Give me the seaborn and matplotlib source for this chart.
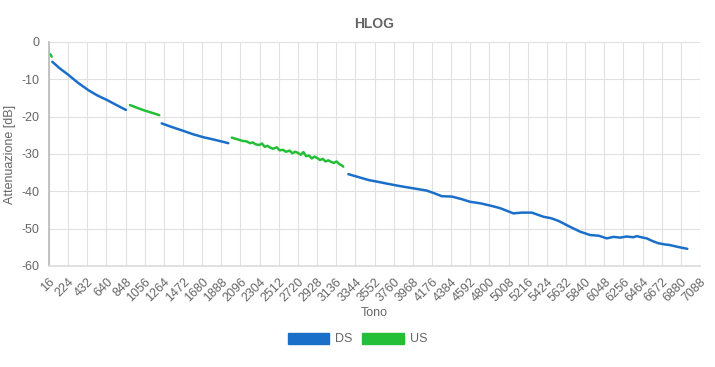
import matplotlib
matplotlib.use("Agg")
import matplotlib.pyplot as plt
from matplotlib.patches import Patch
import seaborn as sns
import pandas as pd

# ---- data ----
tick_labels = list(range(16, 7089, 208))

ds_seg1_tone = [52, 130, 226, 330, 443, 540, 643, 750, 852]
ds_seg1_db = [-5.3, -7.0, -8.8, -10.9, -12.9, -14.3, -15.5, -16.9, -18.2]

ds_seg2_tone = [1240, 1330, 1475, 1580, 1692, 1800, 1900, 1964]
ds_seg2_db = [-21.8, -22.6, -23.8, -24.7, -25.5, -26.1, -26.7, -27.1]

ds_seg3_tone = [3268, 3380, 3492, 3600, 3699, 3829, 3974, 4119, 4200, 4282, 4391,
                4500, 4590, 4700, 4807, 4916, 5060, 5151, 5260, 5386, 5470, 5549,
                5676, 5785, 5894, 5990, 6075, 6150, 6220, 6290, 6364, 6400, 6450,
                6509, 6570, 6635, 6700, 6762, 6850, 6950]
ds_seg3_db = [-35.4, -36.2, -37.0, -37.5, -38.0, -38.6, -39.2, -39.8, -40.5, -41.3, -41.4,
              -42.1, -42.8, -43.2, -43.8, -44.5, -45.9, -45.7, -45.7, -46.8, -47.2, -47.9,
              -49.5, -50.8, -51.7, -51.9, -52.6, -52.2, -52.4, -52.1, -52.3, -52.0, -52.3,
              -52.6, -53.3, -53.9, -54.2, -54.4, -54.9, -55.4]

us_seg1_tone = [27, 36, 45]
us_seg1_db = [-3.2, -3.5, -3.9]

us_seg2_tone = [896, 980, 1060, 1140, 1214]
us_seg2_db = [-16.9, -17.7, -18.4, -19.0, -19.6]

us_seg3_tone = [2001, 2040, 2080, 2120, 2160, 2200, 2230, 2260, 2300, 2330, 2360,
                2390, 2420, 2450, 2490, 2520, 2560, 2590, 2630, 2660, 2690, 2720,
                2750, 2780, 2810, 2840, 2870, 2900, 2930, 2960, 2990, 3020, 3050,
                3080, 3110, 3140, 3170, 3200, 3213]
us_seg3_db = [-25.6, -25.9, -26.2, -26.5, -26.6, -27.1, -26.9, -27.4, -27.6, -27.2, -28.1,
              -27.8, -28.3, -28.6, -28.2, -29.0, -28.9, -29.4, -29.1, -29.8, -29.4, -29.7,
              -30.2, -29.5, -30.6, -30.4, -31.2, -30.7, -31.1, -31.6, -31.3, -32.0, -31.7,
              -32.1, -32.4, -32.0, -32.7, -33.1, -33.4]

segments = [
    ("DS", 1, ds_seg1_tone, ds_seg1_db),
    ("DS", 2, ds_seg2_tone, ds_seg2_db),
    ("DS", 3, ds_seg3_tone, ds_seg3_db),
    ("US", 4, us_seg1_tone, us_seg1_db),
    ("US", 5, us_seg2_tone, us_seg2_db),
    ("US", 6, us_seg3_tone, us_seg3_db),
]
rows = []
for s, seg, t, d in segments:
    for a, b in zip(t, d):
        rows.append({"series": s, "segment": seg, "tone": a, "db": b})
df = pd.DataFrame(rows)

BLUE = "#1a6fc9"
GREEN = "#24bf37"
GRAY = "#666666"

sns.set_theme(style="white")
plt.rcParams["font.family"] = ["Liberation Sans", "DejaVu Sans"]

fig = plt.figure(figsize=(7.15, 3.67), dpi=100)
ax = fig.add_axes([49 / 715, 1 - 266 / 367, (700 - 49) / 715, (266 - 42) / 367])

sns.lineplot(data=df, x="tone", y="db", hue="series", units="segment",
             estimator=None, palette={"DS": BLUE, "US": GREEN},
             linewidth=1.8, ax=ax, legend=False, sort=False)

ax.set_xlim(16, 7088)
ax.set_ylim(-60, 0)
ax.set_xticks(tick_labels)
ax.set_xticklabels([str(v) for v in tick_labels], rotation=45, ha="right",
                   rotation_mode="anchor", fontsize=9, color=GRAY)
ax.set_yticks(range(-60, 1, 10))
ax.set_yticklabels([str(v) for v in range(-60, 1, 10)], fontsize=9, color=GRAY)
ax.tick_params(axis="both", length=4, color="#dddddd", pad=3)
ax.grid(True, color="#e0e0e0", linewidth=0.8)
for side in ["top", "right"]:
    ax.spines[side].set_visible(False)
ax.spines["left"].set_color("#bbbbbb")
ax.spines["bottom"].set_color("#dddddd")
ax.set_xlabel("Tono", fontsize=9, color=GRAY, labelpad=2)
ax.set_ylabel("Attenuazione [dB]", fontsize=9, color=GRAY, labelpad=4)
ax.set_title("HLOG", fontsize=10, fontweight="bold", color=GRAY, pad=10)

handles = [Patch(facecolor=BLUE, edgecolor=BLUE, label="DS"),
           Patch(facecolor=GREEN, edgecolor=GREEN, label="US")]
fig.legend(handles=handles, loc="center", bbox_to_anchor=(0.5, 1 - 339 / 367),
           ncol=2, frameon=False, fontsize=9, handlelength=3.3, handleheight=1.0,
           columnspacing=0.8, handletextpad=0.5, labelcolor=GRAY)

fig.savefig("out.png", dpi=100)
